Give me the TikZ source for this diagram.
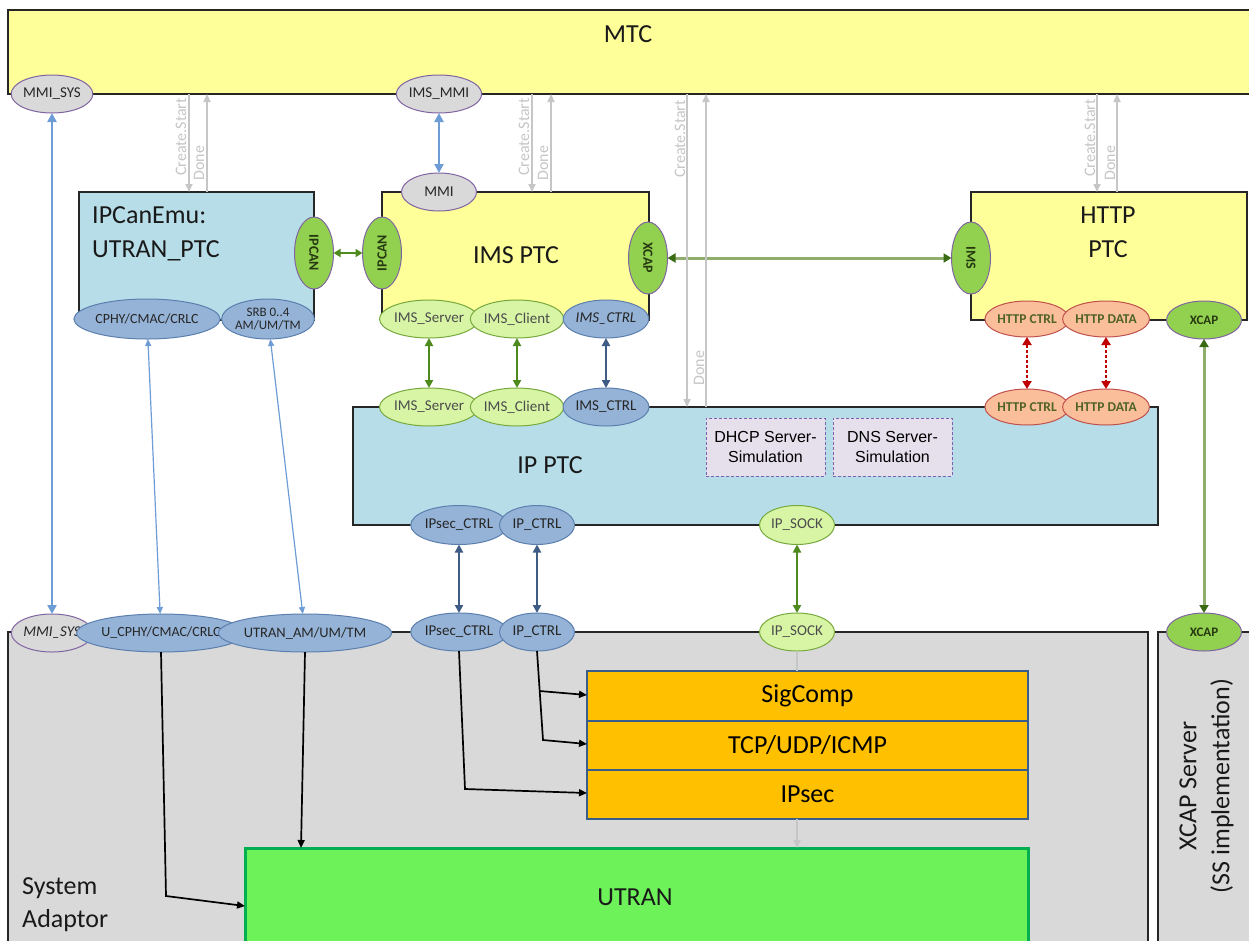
\documentclass[tikz,border=0pt]{standalone}
\usepackage{fontspec}
\setmainfont{Carlito}
\newfontfamily\arialf{Liberation Sans}
\usetikzlibrary{shapes.geometric,arrows.meta}
\definecolor{mtcY}{HTML}{FFFF99}
\definecolor{ptcB}{HTML}{B7DEE8}
\definecolor{saG}{HTML}{D9D9D9}
\definecolor{purp}{HTML}{8064A2}
\definecolor{grn}{HTML}{92D050}
\definecolor{lgrn}{HTML}{D8F5A6}
\definecolor{lgrnB}{HTML}{77A83C}
\definecolor{blu}{HTML}{95B3D7}
\definecolor{bluB}{HTML}{5B7FAE}
\definecolor{org}{HTML}{FABF9A}
\definecolor{orgB}{HTML}{C0504D}
\definecolor{stk}{HTML}{FFC000}
\definecolor{stkB}{HTML}{385D8A}
\definecolor{utr}{HTML}{6EF25A}
\definecolor{utrB}{HTML}{00B050}
\definecolor{sim}{HTML}{E6E0EC}
\definecolor{simB}{HTML}{7F5FB0}
\definecolor{lgray}{HTML}{C6C6C6}
\definecolor{arrB}{HTML}{6E9DD6}
\definecolor{arrDB}{HTML}{3E5C86}
\definecolor{arrG}{HTML}{4F8A1E}
\definecolor{arrGD}{HTML}{3A6B12}
\definecolor{arrGL}{HTML}{8FAE6C}
\definecolor{arrR}{HTML}{C00000}
\definecolor{txtG}{HTML}{4F6228}
\definecolor{txtD}{HTML}{26380F}
\begin{document}
\begin{tikzpicture}[x=1pt,y=-1pt,
  box/.style={draw=black!85,line width=1.2pt,inner sep=0,outer sep=0,anchor=north west},
  port/.style={ellipse,line width=1pt,inner sep=0,outer sep=0,minimum width=75,minimum height=38,font=\fontsize{15}{16}\selectfont,text=black!85},
  pgray/.style={port,draw=purp,fill=saG},
  pgreen/.style={port,draw=purp,fill=grn,text=txtD,font=\bfseries\fontsize{13}{14}\selectfont},
  plgreen/.style={port,draw=lgrnB,fill=lgrn,text=black!70},
  pblue/.style={port,draw=bluB,fill=blu},
  porange/.style={port,draw=orgB,fill=org,text=txtG,font=\bfseries\fontsize{13.5}{14}\selectfont},
  pvert/.style={pgreen,minimum width=72,minimum height=39,font=\bfseries\fontsize{14}{15}\selectfont},
  big/.style={font=\fontsize{26}{31}\selectfont,inner sep=0,text=black!90},
  cslab/.style={font=\fontsize{16}{17}\selectfont,text=lgray,rotate=90,inner sep=0},
  csarr/.style={draw=lgray,line width=1.6pt,-{Triangle[length=8pt,width=7pt]}},
  bluearr/.style={draw=arrB,line width=2.6pt,{Triangle[length=9pt,width=9pt]}-{Triangle[length=9pt,width=9pt]}},
  thinblue/.style={draw=arrB,line width=1.2pt,{Triangle[length=7pt,width=6pt]}-{Triangle[length=7pt,width=6pt]}},
  dbarr/.style={draw=arrDB,line width=2.2pt,{Triangle[length=8pt,width=8pt]}-{Triangle[length=8pt,width=8pt]}},
  garr/.style={draw=arrG,line width=2.2pt,{Triangle[length=8pt,width=8pt]}-{Triangle[length=8pt,width=8pt]}},
  glong/.style={draw=arrGL,line width=3pt,{Triangle[length=8pt,width=9pt,color=arrGD]}-{Triangle[length=8pt,width=9pt,color=arrGD]}},
  rarr/.style={draw=arrR,line width=2.4pt,densely dashed,{Triangle[length=8pt,width=9pt,color=arrR]}-{Triangle[length=8pt,width=9pt,color=arrR]}},
  blk/.style={draw=black,line width=1.7pt,-{Triangle[length=8pt,width=7pt]}},
  stkbox/.style={box,draw=stkB,line width=2.5pt,fill=stk,font=\fontsize{26}{31}\selectfont},
  simbox/.style={box,draw=simB,line width=1pt,densely dashed,fill=sim,align=center,font=\arialf\fontsize{16}{20}\selectfont}
]
\useasboundingbox (0,0) rectangle (1249,940);
\fill[white] (0,0) rectangle (1249,940);

% ---------- large boxes ----------
\node[box,fill=mtcY,minimum width=1260,minimum height=84] (mtc) at (8,10) {};
\node[box,fill=saG,minimum width=1140,minimum height=330] (sa) at (8,632) {};
\node[box,fill=saG,minimum width=110,minimum height=330] (xsrv) at (1158,632) {};
\node[box,fill=ptcB,minimum width=235,minimum height=128] (ipcanemu) at (79,192) {};
\node[box,fill=mtcY,minimum width=267,minimum height=128] (imsptc) at (382,192) {};
\node[box,fill=mtcY,minimum width=276,minimum height=128] (httpptc) at (971,192) {};
\node[box,fill=ptcB,minimum width=805,minimum height=118] (ipptc) at (353,407) {};
\node[simbox,minimum width=119,minimum height=58] (dhcp) at (706,418) {DHCP Server-\\Simulation};
\node[simbox,minimum width=119,minimum height=58] (dns) at (833,418) {DNS Server-\\Simulation};
\node[stkbox,minimum width=441,minimum height=50] (sig) at (587,671) {SigComp};
\node[stkbox,minimum width=441,minimum height=49] (tcp) at (587,721) {TCP/UDP/ICMP};
\node[stkbox,minimum width=441,minimum height=49] (ipsec) at (587,770) {IPsec};
\node[box,draw=utrB,line width=3pt,fill=utr,minimum width=783,minimum height=120] (utran) at (245,848) {};

% ---------- titles ----------
\node[big,anchor=base] (mtct) at (628,42) {MTC};
\node[big,anchor=base west] (ipc1) at (92,223) {IPCanEmu:};
\node[big,anchor=base west] (ipc2) at (92,257) {UTRAN\_PTC};
\node[big,anchor=base] (imst) at (516,263) {IMS PTC};
\node[big,anchor=base] (http1) at (1108,223) {HTTP};
\node[big,anchor=base] (http2) at (1108,257) {PTC};
\node[big,anchor=base] (ipt) at (550,473) {IP PTC};
\node[big,anchor=base] (utrt) at (635,905) {UTRAN};
\node[big,anchor=base west] (sys1) at (22,894) {System};
\node[big,anchor=base west] (sys2) at (22,927) {Adaptor};
\node[big,rotate=90] (xs1) at (1188,786) {XCAP Server};
\node[big,rotate=90] (xs2) at (1222,786) {(SS implementation)};

% ---------- create/done labels ----------
\node[cslab] (cl1) at (181,137) {Create.Start};
\node[cslab] (dl1) at (199,163) {Done};
\node[cslab] (cl2) at (524,137) {Create.Start};
\node[cslab] (dl2) at (543,163) {Done};
\node[cslab] (cl3) at (680,139) {Create.Start};
\node[cslab] (dl3) at (699,368) {Done};
\node[cslab] (cl4) at (1090,138) {Create.Start};
\node[cslab] (dl4) at (1110,163) {Done};

% ---------- ports ----------
\node[pgray] (mmisysT) at (52,94) {MMI\_SYS};
\node[pgray] (imsmmi) at (439,94) {IMS\_MMI};
\node[pgray] (mmi) at (439,192) {MMI};
\node[pvert,rotate=-90] (ipcanL) at (314,253) {IPCAN};
\node[pvert,rotate=90] (ipcanR) at (382,253) {IPCAN};
\node[pvert,rotate=-90] (xcapV) at (648,258) {XCAP};
\node[pvert,rotate=-90] (imsV) at (971,258) {IMS};
\node[pblue,minimum width=118,minimum height=40,font=\fontsize{14}{15}\selectfont] (cphyT) at (147,319) {CPHY/CMAC/CRLC};
\node[pblue,minimum width=88,minimum height=40,align=center,font=\fontsize{13}{12.5}\selectfont] (srb) at (268,319) {SRB 0..4\\AM/UM/TM};
\node[plgreen] (srvT) at (429,319) {IMS\_Server};
\node[plgreen] (cliT) at (517,319) {IMS\_Client};
\node[pblue,font=\itshape\fontsize{15}{16}\selectfont] (ctrlT) at (606,319) {IMS\_CTRL};
\node[porange,minimum height=36] (hctrlT) at (1027,319) {HTTP CTRL};
\node[porange,minimum height=36] (hdataT) at (1106,319) {HTTP DATA};
\node[pgreen] (xcapT) at (1204,320) {XCAP};
\node[plgreen] (srvB) at (429,407) {IMS\_Server};
\node[plgreen] (cliB) at (517,407) {IMS\_Client};
\node[pblue] (ctrlB) at (606,407) {IMS\_CTRL};
\node[porange,minimum height=36] (hctrlB) at (1027,407) {HTTP CTRL};
\node[porange,minimum height=36] (hdataB) at (1106,407) {HTTP DATA};
\node[pblue,minimum height=39] (ipsecT) at (459,525) {IPsec\_CTRL};
\node[pblue,minimum height=39] (ipctrlT) at (537,525) {IP\_CTRL};
\node[plgreen,minimum height=39] (ipsockT) at (797,525) {IP\_SOCK};
\node[pgray,font=\itshape\fontsize{15}{16}\selectfont] (mmisysB) at (52,633) {MMI\_SYS};
\node[pblue,minimum width=129,font=\fontsize{14}{15}\selectfont] (ucphy) at (161,633) {U\_CPHY/CMAC/CRLC};
\node[pblue,minimum width=136,font=\fontsize{14.5}{15}\selectfont] (utranam) at (305,633) {UTRAN\_AM/UM/TM};
\node[pblue] (ipsecB) at (459,632) {IPsec\_CTRL};
\node[pblue] (ipctrlB) at (537,632) {IP\_CTRL};
\node[plgreen] (ipsockB) at (797,632) {IP\_SOCK};
\node[pgreen] (xcapB) at (1204,632) {XCAP};

% ---------- connectors ----------
\draw[bluearr] (mmisysT) -- (mmisysB);
\draw[bluearr] (imsmmi) -- (mmi);
\draw[thinblue] (cphyT) -- (ucphy);
\draw[thinblue] (srb) -- (utranam);
\draw[garr,{Triangle[length=7pt,width=8pt]}-{Triangle[length=7pt,width=8pt]}] (ipcanL) -- (ipcanR);
\draw[glong] (xcapV) -- (imsV);
\draw[garr] (srvT) -- (srvB);
\draw[garr] (cliT) -- (cliB);
\draw[dbarr] (ctrlT) -- (ctrlB);
\draw[rarr] (hctrlT) -- (hctrlB);
\draw[rarr] (hdataT) -- (hdataB);
\draw[dbarr] (ipsecT) -- (ipsecB);
\draw[dbarr] (ipctrlT) -- (ipctrlB);
\draw[garr] (ipsockT) -- (ipsockB);
\draw[glong] (xcapT) -- (xcapB);

\foreach \a/\b/\t in {189/207/ipcanemu, 532/551/imsptc, 687/706/ipptc, 1097/1117/httpptc} {
  \coordinate (csx) at (\a,0);
  \coordinate (dnx) at (\b,0);
  \draw[csarr] (csx |- mtc.south) -- (csx |- \t.north);
  \draw[csarr] (dnx |- \t.north) -- (dnx |- mtc.south);
}

\draw[draw=lgray,line width=1.6pt] (ipsockB.south) -- (ipsockB.south |- sig.north);
\draw[csarr] (ipsockB.south |- ipsec.south) -- (ipsockB.south |- utran.north);

\coordinate (k4) at (166,896); \coordinate (e4) at (245,906);
\draw[blk] (ucphy.south) -- (k4) -- (e4);
\coordinate (e5) at (301,848);
\draw[blk] (utranam.south) -- (e5);
\coordinate (k3) at (465,789); \coordinate (e3) at (587,793);
\draw[blk] (ipsecB.south) -- (k3) -- (e3);
\coordinate (k1) at (543,740); \coordinate (e1) at (587,744);
\draw[blk] (ipctrlB.south) -- (k1) -- (e1);
\coordinate (k2) at (539.7,691); \coordinate (e2) at (587,695);
\draw[blk] (k2) -- (e2);
\end{tikzpicture}
\end{document}
